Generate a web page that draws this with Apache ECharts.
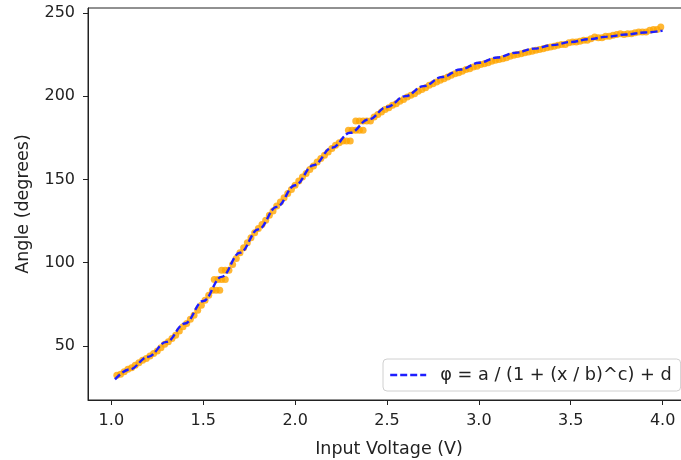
<!DOCTYPE html>
<html>
<head>
<meta charset="utf-8">
<script src="https://cdn.jsdelivr.net/npm/echarts@6/dist/echarts.min.js"></script>
<style>
html,body{margin:0;padding:0;background:#fff;}
#chart{width:681px;height:460px;}
</style>
</head>
<body>
<div id="chart"></div>
<script>
// Measured points (Input Voltage V, Angle degrees)
const measVoltage = [1.03,1.05,1.07,1.09,1.11,1.13,1.15,1.17,1.19,1.21,1.23,1.25,1.27,1.29,1.31,1.33,1.35,1.37,1.39,1.41,1.43,1.45,1.47,1.49,1.51,1.53,1.55,1.57,1.59,1.56,1.58,1.60,1.62,1.60,1.62,1.64,1.66,1.68,1.70,1.72,1.74,1.76,1.78,1.80,1.82,1.84,1.86,1.88,1.90,1.92,1.94,1.96,1.98,2.00,2.02,2.04,2.06,2.08,2.10,2.12,2.14,2.16,2.18,2.20,2.22,2.24,2.26,2.28,2.30,2.29,2.31,2.33,2.35,2.37,2.33,2.35,2.37,2.39,2.41,2.43,2.45,2.47,2.49,2.51,2.53,2.55,2.57,2.59,2.61,2.63,2.65,2.67,2.69,2.71,2.73,2.75,2.77,2.79,2.81,2.83,2.85,2.87,2.89,2.91,2.93,2.95,2.97,2.99,3.01,3.03,3.05,3.07,3.09,3.11,3.13,3.15,3.17,3.19,3.21,3.23,3.25,3.27,3.29,3.31,3.33,3.35,3.37,3.39,3.41,3.43,3.45,3.47,3.49,3.51,3.53,3.55,3.57,3.59,3.61,3.63,3.65,3.67,3.69,3.71,3.73,3.75,3.77,3.79,3.81,3.83,3.85,3.87,3.89,3.91,3.93,3.95,3.97,3.99];
const measAngle = [32.5,33,34.5,36,37,38.5,40,41.5,42.5,44,45.5,47,49,51,52.5,54.5,56.5,59,61.5,63.5,66,68.5,71.5,74.5,77.5,80.5,83.5,83.5,83.5,90,90,90,90,95.5,95.5,95.5,99,102.5,106,109,112,115,118,120.5,123,125.5,128.5,131,134,136.5,139,141.5,144,146.5,149,151.5,153.5,156,158,160.5,162.5,164.5,166.5,168.5,170.5,172,173,173,173,179.5,179.5,179.5,179.5,179.5,185,185,185,185,185,187.5,189,190.5,192,193,194.5,195.5,197,198,199.5,200.5,201.5,203,204,205,206.5,207.5,208.5,209.5,210.5,211.5,212.5,213.5,214,215,216,216.5,217.5,218,219,219.5,220,221,221.5,222,222.5,223,224,224.5,225,225.5,226,226.5,227,227.5,228,228.5,229,229.5,230,230.5,231,231,232,232.5,232.5,233,233.5,233.5,234.5,235.5,235,235,236,236,236.5,237,237.5,237,237.5,237.5,238,238.5,238.5,238.5,239.5,240,240,241.5];

// Fitted curve
const fitVoltage = [1.02,1.1,1.2,1.3,1.4,1.5,1.6,1.7,1.8,1.9,2.0,2.1,2.2,2.3,2.4,2.5,2.6,2.7,2.8,2.9,3.0,3.1,3.2,3.3,3.4,3.5,3.6,3.7,3.8,3.9,4.0];
const fitAngle = [30,36,43.5,52.5,63.5,77,91.5,106,120,133.5,146.5,158.5,169,178,186,193.5,200,206,211.5,216,220,223.2,226,228.5,230.6,232.5,234.2,235.7,237,238.2,239.3];

const xTicks = [1.0,1.5,2.0,2.5,3.0,3.5,4.0];
const yTicks = [50,100,150,200,250];
const legendLabel = 'φ = a / (1 + (x / b)^c) + d';

const measData = measVoltage.map((v,i)=>[v, measAngle[i]]);
const fitData = fitVoltage.map((v,i)=>[v, fitAngle[i]]);

const FONT = 'DejaVu Sans';
const chart = echarts.init(document.getElementById('chart'), null, {renderer:'canvas'});
chart.setOption({
  animation:false,
  backgroundColor:'#fff',
  textStyle:{fontFamily:FONT},
  grid:{left:88, top:8, width:602, height:392, show:true, borderColor:'#222', borderWidth:1,
    backgroundColor:'transparent', containLabel:false, outerBoundsMode:'none'},
  legend:{
    show:true,
    data:[legendLabel],
    left:383, top:359,
    orient:'horizontal',
    itemWidth:36, itemHeight:14, itemGap:0,
    padding:[7,9,7,6],
    backgroundColor:'rgba(255,255,255,0.85)',
    borderColor:'#d0d0d0', borderWidth:1, borderRadius:4,
    itemStyle:{opacity:0, borderWidth:0},
    lineStyle:{type:[7,3], width:2.4, color:'#1e1eff', opacity:1},
    textStyle:{fontFamily:FONT, fontSize:17.7, color:'#222', padding:[0,0,0,9]}
  },
  xAxis:{
    type:'value', min:0.873, max:4.149,
    name:'Input Voltage (V)', nameLocation:'middle', nameGap:40,
    nameTextStyle:{fontFamily:FONT, fontSize:17.5, color:'#222'},
    axisLine:{show:true, onZero:false, lineStyle:{color:'#222', width:1}},
    axisTick:{show:true, length:5, lineStyle:{color:'#222'}, customValues:xTicks},
    axisLabel:{color:'#222', fontFamily:FONT, fontSize:16, margin:13, customValues:xTicks,
      formatter:(v)=>Number(v).toFixed(1)},
    splitLine:{show:false}
  },
  yAxis:{
    type:'value', min:17.6, max:252.9,
    name:'Angle (degrees)', nameLocation:'middle', nameGap:56,
    nameTextStyle:{fontFamily:FONT, fontSize:17.5, color:'#222'},
    axisLine:{show:true, onZero:false, lineStyle:{color:'#222', width:1}},
    axisTick:{show:true, length:5, lineStyle:{color:'#222'}, customValues:yTicks},
    axisLabel:{color:'#222', fontFamily:FONT, fontSize:16, margin:13, customValues:yTicks,
      formatter:(v)=>String(Math.round(v))},
    splitLine:{show:false}
  },
  series:[
    {
      type:'scatter', name:'measured', data:measData,
      symbol:'circle', symbolSize:7,
      itemStyle:{color:'#ffa500'}, z:2, silent:true
    },
    {
      type:'line', name:legendLabel, data:fitData,
      showSymbol:false, symbol:'none', smooth:0.4, smoothMonotone:'x',
      lineStyle:{color:'#1e1eff', width:2.4, type:[7,3]},
      itemStyle:{color:'#1e1eff'}, z:5, silent:true
    }
  ]
});
</script>
</body>
</html>
